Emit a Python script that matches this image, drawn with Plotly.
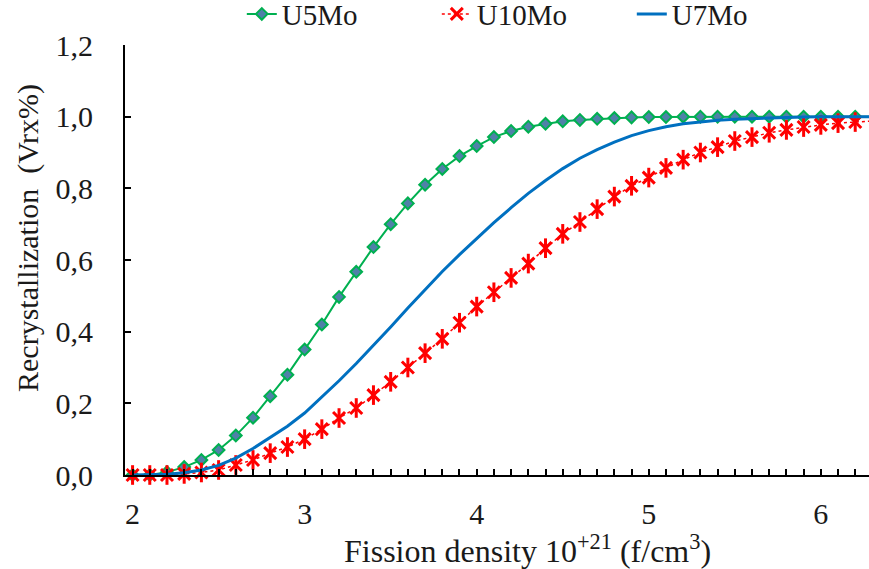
import plotly.graph_objects as go

x = [round(2.0 + 0.1 * i, 1) for i in range(44)]  # 2.0 .. 6.3

u5mo = [0.0, 0.0, 0.008, 0.022, 0.042, 0.07, 0.11, 0.16, 0.22, 0.28,
        0.35, 0.42, 0.497, 0.567, 0.636, 0.70, 0.758, 0.81, 0.854, 0.89,
        0.918, 0.943, 0.96, 0.972, 0.98, 0.987, 0.991, 0.994, 0.996, 0.998,
        0.999, 0.999, 1.0, 1.0, 1.0, 1.0, 1.0, 1.0, 1.0, 1.0,
        1.0, 1.0, 1.0, 1.0]

u10mo = [0.0, 0.0, 0.0, 0.003, 0.007, 0.014, 0.028, 0.042, 0.061, 0.078,
         0.10, 0.128, 0.159, 0.187, 0.223, 0.26, 0.30, 0.34, 0.38, 0.425,
         0.47, 0.51, 0.55, 0.59, 0.633, 0.673, 0.706, 0.742, 0.777, 0.807,
         0.83, 0.857, 0.88, 0.90, 0.915, 0.932, 0.943, 0.955, 0.963, 0.971,
         0.977, 0.982, 0.985, 0.988]

u7mo = [0.0, 0.0, 0.002, 0.006, 0.014, 0.027, 0.047, 0.074, 0.104, 0.136,
        0.173, 0.217, 0.263, 0.311, 0.361, 0.413, 0.466, 0.518, 0.568, 0.615,
        0.66, 0.704, 0.746, 0.786, 0.822, 0.855, 0.884, 0.908, 0.929, 0.947,
        0.961, 0.972, 0.98, 0.986, 0.99, 0.993, 0.995, 0.997, 0.998, 0.999,
        1.0, 1.0, 1.0, 1.0]

FONT = "Liberation Serif"

fig = go.Figure()
fig.add_trace(go.Scatter(
    x=x, y=u5mo, name="U5Mo", mode="lines+markers",
    line=dict(color="#00B050", width=2),
    marker=dict(symbol="diamond", size=9, color="#4F81A8",
                line=dict(color="#00B050", width=2)),
    cliponaxis=False))
fig.add_trace(go.Scatter(
    x=x, y=u10mo, name="U10Mo", mode="lines+markers",
    line=dict(color="#FF0000", width=1.5, dash="dot"),
    marker=dict(symbol="x-thin-open", size=12, color="#FF0000",
                line=dict(color="#FF0000", width=3)),
    cliponaxis=False, legendgroup="u10"))
fig.add_trace(go.Scatter(
    x=x, y=u10mo, name="U10Mo", mode="markers", showlegend=False,
    marker=dict(symbol="line-ns-open", size=14, color="#FF0000",
                line=dict(color="#FF0000", width=3)),
    cliponaxis=False, legendgroup="u10", hoverinfo="skip"))
fig.add_trace(go.Scatter(
    x=x, y=u7mo, name="U7Mo", mode="lines",
    line=dict(color="#0070C0", width=3),
    cliponaxis=False))

fig.update_layout(
    width=869, height=569,
    margin=dict(l=125, r=0, t=45, b=94, autoexpand=False),
    paper_bgcolor="white", plot_bgcolor="white",
    font=dict(family=FONT, size=30, color="#1a1a1a"),
    separators=", ",
    showlegend=True,
    legend=dict(orientation="h", x=0.157, xanchor="left", y=1.072,
                yanchor="middle", font=dict(size=29, family=FONT),
                entrywidth=150, entrywidthmode="pixels",
                bgcolor="rgba(0,0,0,0)"),
    xaxis=dict(range=[1.956, 6.28], tick0=2, dtick=1, showgrid=False,
               zeroline=False, showline=True, linecolor="black", linewidth=2,
               ticks="inside", ticklen=6, tickwidth=1.5, tickcolor="black",
               ticklabelstandoff=11, automargin=False,
               minor=dict(dtick=0.1, ticks="inside", ticklen=6,
                          tickwidth=1.5, tickcolor="black", showgrid=False),
               tickfont=dict(size=30, family=FONT)),
    yaxis=dict(range=[0, 1.2], tick0=0, dtick=0.2, tickformat=".1f",
               showgrid=False, zeroline=False, showline=True,
               linecolor="black", linewidth=2,
               ticks="inside", ticklen=6, tickwidth=1.5, tickcolor="black",
               ticklabelstandoff=24, automargin=False,
               tickfont=dict(size=30, family=FONT)),
    annotations=[
        dict(text="Recrystallization  (Vrx%)", textangle=-90,
             xref="paper", yref="paper",
             x=(28 - 125) / 744, y=(475 - 238) / 430,
             xanchor="center", yanchor="middle", showarrow=False,
             font=dict(size=30, family=FONT)),
        dict(text="Fission density 10<sup>+21</sup> (f/cm<sup>3</sup>)",
             xref="paper", yref="paper",
             x=(527 - 125) / 744, y=(475 - 549) / 430,
             xanchor="center", yanchor="middle", showarrow=False,
             font=dict(size=32, family=FONT)),
    ],
)

fig.write_html("out.html")
